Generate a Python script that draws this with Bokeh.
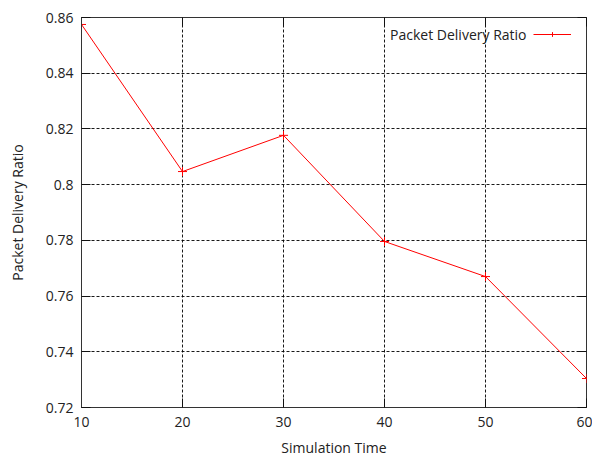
from bokeh.plotting import figure
from bokeh.models import (Range1d, FixedTicker, LinearAxis, Legend, LegendItem, Label)
from bokeh.embed import file_html
from bokeh.resources import INLINE

sim_time = [10, 20, 30, 40, 50, 60]
pdr = [0.8575, 0.8047, 0.8177, 0.7796, 0.7670, 0.7304]
x_ticks = [10, 20, 30, 40, 50, 60]
y_ticks = [0.72, 0.74, 0.76, 0.78, 0.80, 0.82, 0.84, 0.86]
y_tick_labels = ["0.72", "0.74", "0.76", "0.78", "0.8", "0.82", "0.84", "0.86"]
series_name = "Packet Delivery Ratio"
x_title = "Simulation Time"
y_title = "Packet Delivery Ratio"

FONT = "Open Sans"
FS = "14px"
TXT = "#222222"

p = figure(width=592, height=461, output_backend="svg", toolbar_location=None,
           x_range=Range1d(10, 60), y_range=Range1d(0.72, 0.86),
           min_border_left=81, min_border_right=6, min_border_top=17, min_border_bottom=54,
           x_axis_label=x_title, y_axis_label=y_title)
p.background_fill_color = "white"
p.border_fill_color = "white"
p.outline_line_color = "#333333"
p.outline_line_width = 1

for ax in p.xaxis + p.yaxis:
    ax.axis_line_color = "#333333"
    ax.major_tick_in = 9
    ax.major_tick_out = 0
    ax.major_tick_line_color = "#111111"
    ax.minor_tick_line_color = None
    ax.major_label_text_font = FONT
    ax.major_label_text_font_size = FS
    ax.major_label_text_color = TXT
    ax.axis_label_text_font = FONT
    ax.axis_label_text_font_size = FS
    ax.axis_label_text_font_style = "normal"
    ax.axis_label_text_color = TXT

p.xaxis.ticker = FixedTicker(ticks=x_ticks)
p.yaxis.ticker = FixedTicker(ticks=y_ticks)
p.yaxis.major_label_overrides = {t: l for t, l in zip(y_ticks, y_tick_labels)}
p.xaxis.major_label_standoff = 9
p.xaxis.axis_label_standoff = 8
p.yaxis.major_label_standoff = 8
p.yaxis.axis_label_standoff = 16

# mirror ticks on top and right
top = LinearAxis(ticker=FixedTicker(ticks=x_ticks), major_tick_in=9, major_tick_out=0,
                 major_label_text_color=None, axis_line_color=None,
                 major_tick_line_color="#111111", minor_tick_line_color=None)
right = LinearAxis(ticker=FixedTicker(ticks=y_ticks), major_tick_in=9, major_tick_out=0,
                   major_label_text_color=None, axis_line_color=None,
                   major_tick_line_color="#111111", minor_tick_line_color=None)
p.add_layout(top, "above")
p.add_layout(right, "right")

for g in (p.xgrid, p.ygrid):
    g.grid_line_color = "black"
    g.grid_line_dash = "3 2"
    g.grid_line_width = 1
    g.grid_line_alpha = 0.9
p.xgrid.ticker = FixedTicker(ticks=x_ticks)
p.ygrid.ticker = FixedTicker(ticks=y_ticks)

ln = p.line(sim_time, pdr, line_color="#ff0000", line_width=1)
sc = p.scatter(sim_time, pdr, marker="cross", size=9, line_color="#ff0000", line_width=1)

legend = Legend(items=[LegendItem(label=" ", renderers=[ln, sc])],
                location=(452, 367), padding=0, margin=0, spacing=0,
                glyph_width=38, glyph_height=12, label_width=0, label_standoff=0,
                border_line_color=None, background_fill_alpha=0,
                label_text_color=None)
p.add_layout(legend, "center")

lbl = Label(x=445, y=373, x_units="screen", y_units="screen", text=series_name,
            text_align="right", text_baseline="middle", text_font=FONT,
            text_font_size=FS, text_color=TXT)
p.add_layout(lbl)

open("out.html", "w").write(file_html(p, INLINE))
